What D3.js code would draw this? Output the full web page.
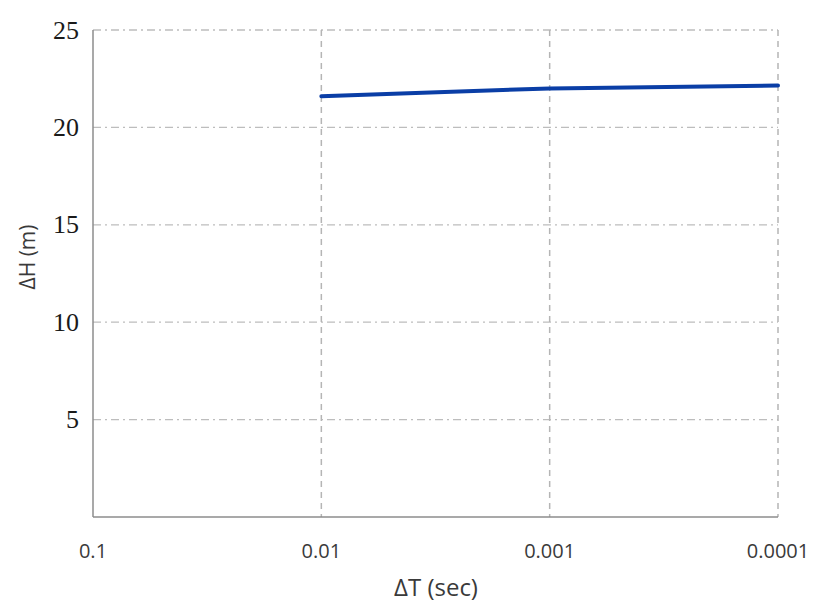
<!DOCTYPE html>
<html><head><meta charset="utf-8">
<script src="https://cdn.jsdelivr.net/npm/d3@7"></script>
<style>body{margin:0;background:#fff;}</style>
</head><body>
<svg id="c" width="816" height="604"></svg>
<script>
const categories = ["0.1", "0.01", "0.001", "0.0001"];
const lineCats = ["0.01", "0.001", "0.0001"];
const deltaH = [21.6, 22.0, 22.15];
const yTicks = [5, 10, 15, 20, 25];

const svg = d3.select("#c");
const L = 93, R = 778, T = 30, B = 517;
const x = d3.scalePoint().domain(categories).range([L, R]);
const y = d3.scaleLinear().domain([0, 25]).range([B, T]);

// horizontal grid (dash-dot)
svg.append("g").selectAll("line").data(yTicks).join("line")
  .attr("x1", L).attr("x2", R).attr("y1", d => y(d)).attr("y2", d => y(d))
  .attr("stroke", "#bdbdbd").attr("stroke-width", 1.3)
  .attr("stroke-dasharray", "8,4,2,4");
// vertical grid (dashed)
svg.append("g").selectAll("line").data(categories.slice(1)).join("line")
  .attr("x1", d => x(d)).attr("x2", d => x(d)).attr("y1", T).attr("y2", B)
  .attr("stroke", "#b5b5b5").attr("stroke-width", 1.5)
  .attr("stroke-dasharray", "6,5");

// axes lines
svg.append("line").attr("x1", L).attr("x2", L).attr("y1", T).attr("y2", B)
  .attr("stroke", "#8c8c8c").attr("stroke-width", 1.5);
svg.append("line").attr("x1", L).attr("x2", R).attr("y1", B).attr("y2", B)
  .attr("stroke", "#8c8c8c").attr("stroke-width", 1.5);

// y tick labels
svg.append("g").selectAll("text").data(yTicks).join("text")
  .attr("x", 79).attr("y", d => y(d)).attr("dy", "0.33em")
  .attr("text-anchor", "end")
  .attr("font-family", "Liberation Serif, Times New Roman, serif")
  .attr("font-size", 26).attr("fill", "#1a1a1a")
  .text(d => d);

// x tick labels
svg.append("g").selectAll("text").data(categories).join("text")
  .attr("x", d => x(d)).attr("y", 558)
  .attr("text-anchor", "middle")
  .attr("font-family", "Open Sans, DejaVu Sans, sans-serif")
  .attr("font-size", 20).attr("fill", "#3a3a3a")
  .text(d => d);

// axis titles
svg.append("text").attr("x", 436).attr("y", 596).attr("text-anchor", "middle")
  .attr("font-family", "Open Sans, DejaVu Sans, sans-serif")
  .attr("font-size", 24).attr("fill", "#3a3a3a").text("ΔT (sec)");
svg.append("text").attr("transform", "translate(35,257) rotate(-90)")
  .attr("text-anchor", "middle")
  .attr("font-family", "Open Sans, DejaVu Sans, sans-serif")
  .attr("font-size", 21).attr("fill", "#3a3a3a").text("ΔH (m)");

// line
const line = d3.line().x((d, i) => x(lineCats[i])).y(d => y(d));
svg.append("path").datum(deltaH).attr("d", line)
  .attr("fill", "none").attr("stroke", "#0a3ea6").attr("stroke-width", 4)
  .attr("stroke-linecap", "round");
</script>
</body></html>
